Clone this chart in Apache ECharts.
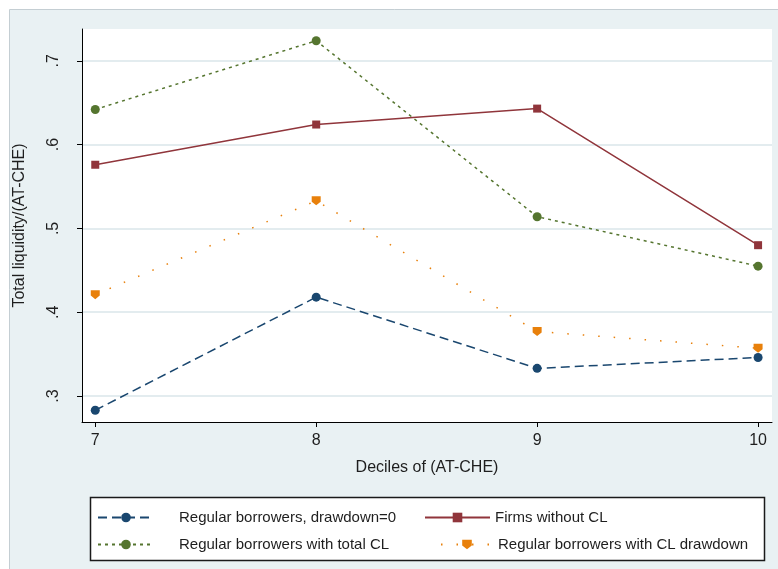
<!DOCTYPE html>
<html>
<head>
<meta charset="utf-8">
<script src="https://cdn.jsdelivr.net/npm/echarts@6/dist/echarts.min.js"></script>
<style>
  html, body { margin: 0; padding: 0; background: #ffffff; }
  #chart { width: 778px; height: 569px; }
</style>
</head>
<body>
<div id="chart"></div>
<script>
// Deciles of (AT-CHE) on the x axis
const deciles = [7, 8, 9, 10];
const xTickLabels = ['7', '8', '9', '10'];

// Total liquidity/(AT-CHE) by group
const regularDrawdownZero = [0.283, 0.418, 0.333, 0.346];
const firmsWithoutCL      = [0.576, 0.624, 0.643, 0.480];
const regularTotalCL      = [0.642, 0.724, 0.514, 0.455];
const regularCLDrawdown   = [0.421, 0.533, 0.377, 0.357];

const yTicks = [0.3, 0.4, 0.5, 0.6, 0.7];
const yTickLabels = ['.3', '.4', '.5', '.6', '.7'];

const seriesNames = [
  'Regular borrowers, drawdown=0',
  'Firms without CL',
  'Regular borrowers with total CL',
  'Regular borrowers with CL drawdown'
];

const FONT = '"Liberation Sans", Arial, sans-serif';
const TEXT = '#1e1e1e';

const pairs = vals => deciles.map((d, i) => [d, vals[i]]);

function lineSeries(name, vals, color, dash, width, symbol, size) {
  return {
    name: name,
    type: 'line',
    data: pairs(vals),
    symbol: symbol,
    symbolSize: size,
    showSymbol: true,
    itemStyle: { color: color },
    lineStyle: { color: color, width: width, type: dash },
    emphasis: { disabled: true },
    animation: false,
    z: 3
  };
}

function legendItem(name, left, top, iconWidth, textPad) {
  return {
    data: [name],
    left: left,
    top: top,
    padding: 0,
    itemWidth: iconWidth,
    itemHeight: 12,
    selectedMode: false,
    textStyle: { fontFamily: FONT, fontSize: 15, color: TEXT, padding: [0, 0, 0, textPad] }
  };
}

const chart = echarts.init(document.getElementById('chart'), null, { renderer: 'canvas' });

chart.setOption({
  backgroundColor: '#ffffff',
  animation: false,
  textStyle: { fontFamily: FONT },
  graphic: [
    // graph region fill with its frame
    {
      type: 'rect', z: -10, silent: true,
      shape: { x: 9.5, y: 9.5, width: 780, height: 580 },
      style: { fill: '#e9f1f3', stroke: '#c4ced3', lineWidth: 1 }
    },
    // legend box
    {
      type: 'rect', z: 1, silent: true,
      shape: { x: 90.5, y: 497.5, width: 674, height: 63 },
      style: { fill: '#ffffff', stroke: '#1a1a1a', lineWidth: 1.5 }
    }
  ],
  grid: {
    left: 82, right: 6, top: 29, bottom: 147,
    show: true, backgroundColor: '#ffffff', borderWidth: 0
  },
  xAxis: {
    type: 'value',
    min: 6.94, max: 10.063,
    name: 'Deciles of (AT-CHE)',
    nameLocation: 'middle',
    nameGap: 38,
    nameTextStyle: { fontFamily: FONT, fontSize: 16, color: TEXT },
    axisLine: { show: true, onZero: false, lineStyle: { color: '#000000', width: 1 } },
    axisTick: { show: true, length: 5, customValues: deciles, lineStyle: { color: '#000000' } },
    axisLabel: {
      customValues: deciles,
      margin: 11,
      fontFamily: FONT, fontSize: 16, color: TEXT,
      formatter: v => xTickLabels[deciles.indexOf(Math.round(v))]
    },
    splitLine: { show: false }
  },
  yAxis: {
    type: 'value',
    min: 0.269, max: 0.738,
    name: 'Total liquidity/(AT-CHE)',
    nameLocation: 'middle',
    nameGap: 54,
    nameTextStyle: { fontFamily: FONT, fontSize: 16, color: TEXT },
    axisLine: { show: true, onZero: false, lineStyle: { color: '#000000', width: 1 } },
    axisTick: { show: true, length: 5, customValues: yTicks, lineStyle: { color: '#000000' } },
    axisLabel: {
      customValues: yTicks,
      rotate: 90,
      margin: 20,
      fontFamily: FONT, fontSize: 16, color: TEXT,
      formatter: v => {
        const i = yTicks.findIndex(t => Math.abs(t - v) < 1e-6);
        return i >= 0 ? yTickLabels[i] : '';
      }
    },
    splitLine: { show: true, lineStyle: { color: '#e3ecef', width: 2 } }
  },
  legend: [
    legendItem(seriesNames[0], 97, 510, 56, 20),
    legendItem(seriesNames[1], 424, 510, 65, 0),
    legendItem(seriesNames[2], 97, 537, 56, 20),
    legendItem(seriesNames[3], 440, 537, 52, 0)
  ],
  series: [
    lineSeries(seriesNames[0], regularDrawdownZero, '#1a476f', [9, 5], 1.5, 'circle', 9),
    lineSeries(seriesNames[1], firmsWithoutCL, '#90353b', 'solid', 1.5, 'rect', 8),
    lineSeries(seriesNames[2], regularTotalCL, '#55752f', [3, 4], 1.5, 'circle', 9),
    lineSeries(seriesNames[3], regularCLDrawdown, '#e8800b', [1.5, 14], 1.5,
      'path://M0,0 L10,0 L10,6 L5,10 L0,6 Z', 9)
  ]
});
</script>
</body>
</html>
